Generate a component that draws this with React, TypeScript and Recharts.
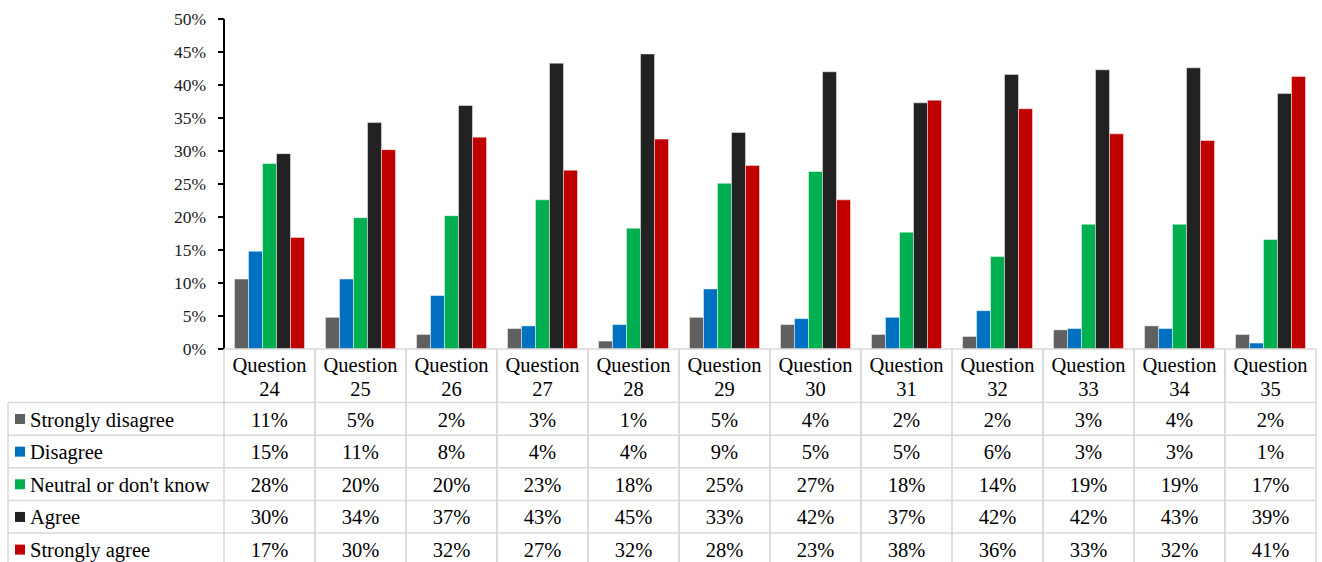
import React from "react";
import { BarChart, Bar, XAxis, YAxis } from "recharts";

const categories = [
  "Question 24", "Question 25", "Question 26", "Question 27", "Question 28", "Question 29",
  "Question 30", "Question 31", "Question 32", "Question 33", "Question 34", "Question 35",
];

const stronglyDisagree = [10.6, 4.8, 2.2, 3.1, 1.2, 4.8, 3.7, 2.2, 1.9, 2.9, 3.5, 2.2];
const disagree = [14.8, 10.6, 8.1, 3.5, 3.7, 9.1, 4.6, 4.8, 5.8, 3.1, 3.1, 0.9];
const neutral = [28.1, 19.9, 20.2, 22.6, 18.3, 25.1, 26.9, 17.7, 14.0, 18.9, 18.9, 16.6];
const agree = [29.6, 34.3, 36.9, 43.3, 44.7, 32.8, 42.0, 37.3, 41.6, 42.3, 42.6, 38.7];
const stronglyAgree = [16.9, 30.2, 32.1, 27.1, 31.8, 27.8, 22.6, 37.7, 36.4, 32.6, 31.6, 41.3];

const yTicks = [0, 5, 10, 15, 20, 25, 30, 35, 40, 45, 50];

const series = [
  { key: "sd", name: "Strongly disagree", values: stronglyDisagree, color: "#606060" },
  { key: "d", name: "Disagree", values: disagree, color: "#0070c0" },
  { key: "n", name: "Neutral or don't know", values: neutral, color: "#00b050" },
  { key: "a", name: "Agree", values: agree, color: "#222222" },
  { key: "sa", name: "Strongly agree", values: stronglyAgree, color: "#c00000" },
];

const data = categories.map((q, i) => {
  const row: Record<string, any> = { question: q };
  series.forEach((s) => (row[s.key] = s.values[i]));
  return row;
});

const W = 1322;
const H = 562;
const PLOT_LEFT = 224;
const PLOT_RIGHT = 1316;
const PLOT_TOP = 19;
const PLOT_BOTTOM = 349;
const COL_W = (PLOT_RIGHT - PLOT_LEFT) / categories.length;
const HEADER_H = 53.5;
const ROW_H = 32.65;
const TABLE_LEFT = 8;
const GRID = "#d9d9d9";
const FONT = "Liberation Serif, DejaVu Serif, serif";

const pct = (v: number) => `${Math.round(v)}%`;

const txt: React.CSSProperties = { fontFamily: FONT, fontSize: 20.5, fill: "#000" };

// draws the data-table column for one category, plus the legend column on the first one
function TableTick(props: any) {
  const { x, payload, index } = props;
  const left = x - COL_W / 2;
  const right = x + COL_W / 2;
  const rowsTop = PLOT_BOTTOM + HEADER_H;
  const [word, num] = String(payload.value).split(" ");
  const bottom = H + 10;

  return (
    <g>
      <line x1={left} x2={left} y1={PLOT_BOTTOM} y2={bottom} stroke={GRID} strokeWidth={1.5} />
      <line x1={right} x2={right} y1={PLOT_BOTTOM} y2={bottom} stroke={GRID} strokeWidth={1.5} />
      <line x1={left} x2={right} y1={PLOT_BOTTOM} y2={PLOT_BOTTOM} stroke={GRID} strokeWidth={1.5} />
      <text x={x} y={PLOT_BOTTOM + 23} textAnchor="middle" style={txt}>{word}</text>
      <text x={x} y={PLOT_BOTTOM + 47} textAnchor="middle" style={txt}>{num}</text>
      {series.map((s, r) => (
        <g key={s.key}>
          <line x1={left} x2={right} y1={rowsTop + r * ROW_H} y2={rowsTop + r * ROW_H} stroke={GRID} strokeWidth={1.5} />
          <text x={x} y={rowsTop + r * ROW_H + 24} textAnchor="middle" style={txt}>{pct(s.values[index])}</text>
        </g>
      ))}
      {index === 0 && (
        <g>
          <line x1={TABLE_LEFT} x2={TABLE_LEFT} y1={rowsTop} y2={bottom} stroke={GRID} strokeWidth={1.5} />
          {series.map((s, r) => (
            <g key={s.key}>
              <line x1={TABLE_LEFT} x2={left} y1={rowsTop + r * ROW_H} y2={rowsTop + r * ROW_H} stroke={GRID} strokeWidth={1.5} />
              <rect x={15} y={rowsTop + r * ROW_H + 11.5} width={10} height={10} fill={s.color} />
              <text x={30} y={rowsTop + r * ROW_H + 24} textAnchor="start" style={txt}>{s.name}</text>
            </g>
          ))}
        </g>
      )}
    </g>
  );
}

export default function App() {
  return (
    <div style={{ position: "absolute", left: 0, top: 0, width: W, height: H, background: "#fff", overflow: "hidden", fontFamily: FONT }}>
      <BarChart
        width={W}
        height={H}
        data={data}
        margin={{ top: PLOT_TOP, right: W - PLOT_RIGHT, left: PLOT_LEFT - 60, bottom: 0 }}
        barGap={0}
        barCategoryGap={10.5}
        style={{ fontFamily: FONT }}
      >
        <XAxis
          dataKey="question"
          axisLine={false}
          tickLine={false}
          interval={0}
          height={H - PLOT_BOTTOM}
          tick={<TableTick />}
        />
        <YAxis
          width={60}
          domain={[0, 50]}
          ticks={yTicks}
          tickFormatter={(v) => `${v}%`}
          axisLine={{ stroke: "#000", strokeWidth: 2 }}
          tickLine={{ stroke: "#000", strokeWidth: 2 }}
          tickSize={6}
          tickMargin={12}
          tick={{ fill: "#1a1a1a", fontSize: 17.5, style: { fontFamily: FONT } }}
        />
        {series.map((s) => (
          <Bar
            key={s.key}
            dataKey={s.key}
            name={s.name}
            fill={s.color}
            stroke="#ffffff"
            strokeOpacity={0.45}
            strokeWidth={1}
            isAnimationActive={false}
          />
        ))}
      </BarChart>
    </div>
  );
}
